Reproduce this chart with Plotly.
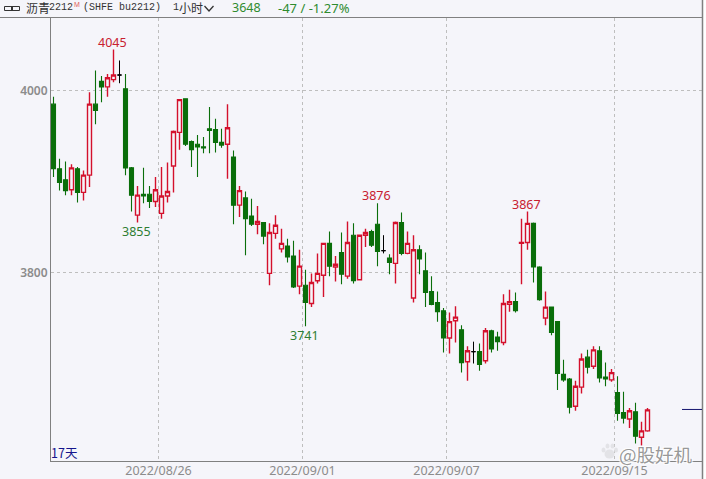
import plotly.graph_objects as go

bars = list(range(100))
opens = [3985,3914,3902,3891,3914,3888,3907,3985,4010,4004,4012,4017,4002,3915,3863,3886,3886,3878,3865,3884,
         3917,3954,3991,3944,3941,3938,3958,3957,3943,3941,3927,3874,3882,3862,3853,3855,3799,3843,3826,3829,
         3818,3785,3786,3766,3791,3797,3832,3806,3822,3796,3841,3792,3841,3845,3853,3824,3816,3810,3855,3821,
         3772,3825,3802,3779,3767,3758,3728,3747,3737,3702,3713,3713,3703,3736,3729,3723,3765,3768,3832,3833,
         3854,3806,3750,3762,3746,3688,3683,3653,3674,3707,3697,3714,3685,3682,3668,3646,3639,3647,3619,3626]
highs = [3993,3925,3922,3919,3916,3912,3998,4022,4016,4018,4045,4033,4018,3916,3895,3915,3895,3905,3916,3921,
         3956,3990,3991,3945,3951,3949,3982,3969,3958,3985,3934,3895,3889,3881,3873,3855,3854,3863,3848,3837,
         3835,3825,3803,3799,3821,3832,3845,3818,3844,3856,3854,3841,3848,3847,3876,3841,3820,3856,3866,3845,
         3841,3830,3822,3796,3779,3761,3756,3763,3742,3719,3724,3722,3739,3737,3735,3776,3781,3778,3859,3867,
         3855,3807,3779,3762,3746,3704,3684,3681,3711,3715,3719,3719,3701,3694,3686,3669,3651,3657,3636,3651]
lows = [3905,3890,3885,3885,3877,3879,3894,3963,3987,3993,4009,4008,3907,3867,3855,3876,3871,3872,3859,3877,
        3888,3935,3939,3916,3905,3931,3931,3932,3937,3903,3853,3861,3819,3851,3842,3831,3786,3837,3822,3811,
        3783,3776,3741,3762,3788,3773,3796,3790,3787,3793,3788,3792,3828,3828,3807,3821,3798,3788,3819,3820,
        3767,3798,3762,3764,3746,3712,3711,3723,3690,3681,3700,3692,3700,3712,3714,3720,3757,3756,3787,3825,
        3789,3769,3742,3731,3671,3680,3645,3648,3667,3689,3694,3679,3675,3680,3637,3634,3629,3612,3610,3625]
closes = [3914,3899,3890,3915,3888,3907,3985,3978,4004,4014,4017,4017,3915,3885,3885,3884,3878,3891,3884,3889,
          3955,3990,3941,3935,3938,3937,3956,3943,3940,3959,3874,3890,3859,3853,3856,3840,3844,3852,3832,3817,
          3784,3807,3767,3789,3799,3832,3807,3809,3798,3833,3791,3841,3844,3830,3823,3824,3811,3855,3821,3832,
          3825,3815,3778,3765,3757,3728,3746,3751,3701,3714,3713,3699,3736,3716,3724,3766,3768,3758,3833,3854,
          3806,3770,3762,3734,3689,3682,3652,3675,3705,3696,3715,3684,3683,3690,3645,3640,3648,3620,3626,3649]
flat_bars = [11, 55, 70]

peak_bars = [10, 54, 79]
peak_values = [4045, 3876, 3867]
trough_bars = [14, 42]
trough_values = [3855, 3741]

date_ticks = [17.5, 41.5, 65.5, 93.5]
date_labels = ["2022/08/26", "2022/09/01", "2022/09/07", "2022/09/15"]
price_ticks = [3800, 4000]
last_price_mark = 3649.5

RED = "#D4102C"
GREEN = "#0A6E0A"
BG = "#F5F5FA"
GREY = "#8C8C8C"
AXIS = "#808080"
GRID = "#BEBEBE"
W, H = 706, 479
L, R, T, B = 51, 702, 18, 461


def px(x):
    return (x - L) / (R - L)


def py(y):
    return (B - y) / (B - T)


plain = [b for b in bars if b not in flat_bars]
fig = go.Figure()
fig.add_trace(go.Candlestick(
    x=plain,
    open=[opens[b] for b in plain], high=[highs[b] for b in plain],
    low=[lows[b] for b in plain], close=[closes[b] for b in plain],
    increasing=dict(line=dict(color=RED, width=1.4), fillcolor=BG),
    decreasing=dict(line=dict(color=GREEN, width=1.1), fillcolor=GREEN),
    showlegend=False,
))
fig.add_trace(go.Candlestick(
    x=flat_bars,
    open=[opens[b] for b in flat_bars], high=[highs[b] for b in flat_bars],
    low=[lows[b] for b in flat_bars], close=[closes[b] for b in flat_bars],
    increasing=dict(line=dict(color="#000000", width=1), fillcolor="#000000"),
    decreasing=dict(line=dict(color="#000000", width=1), fillcolor="#000000"),
    showlegend=False,
))

for b, v in zip(peak_bars, peak_values):
    fig.add_annotation(x=b, y=v, text=str(v), showarrow=False, yanchor="bottom", yshift=-3, xshift=-1.5,
                       font=dict(color="#C8202F", size=12.5, family="Noto Sans, sans-serif"))
for b, v in zip(trough_bars, trough_values):
    fig.add_annotation(x=b, y=v, text=str(v), showarrow=False, yanchor="top", yshift=1, xshift=-1.5,
                       font=dict(color="#2E7D32", size=12.5, family="Noto Sans, sans-serif"))

shapes = [
    # frame: header rule, right rule, white strip beyond it
    dict(type="rect", xref="paper", yref="paper", x0=px(703), x1=px(706), y0=py(479), y1=py(0),
         line=dict(width=0), fillcolor="#FFFFFF", layer="above"),
    dict(type="line", xref="paper", yref="paper", x0=px(0), x1=px(702), y0=py(17.5), y1=py(17.5),
         line=dict(color=AXIS, width=1), layer="above"),
    dict(type="line", xref="paper", yref="paper", x0=px(702.5), x1=px(702.5), y0=py(0), y1=py(479),
         line=dict(color=AXIS, width=1.5), layer="above"),
    # last-price marker
    dict(type="line", xref="paper", yref="y", x0=px(682), x1=px(702), y0=last_price_mark, y1=last_price_mark,
         line=dict(color="#14146E", width=1), layer="above"),
    # link icon in the header
    dict(type="rect", xref="paper", yref="paper", x0=px(4.5), x1=px(12.5), y0=py(10.5), y1=py(6.5),
         line=dict(color="#333333", width=1), layer="above"),
    dict(type="rect", xref="paper", yref="paper", x0=px(11.5), x1=px(19.5), y0=py(10.5), y1=py(6.5),
         line=dict(color="#333333", width=1), layer="above"),
    # chevron in the header
    dict(type="path", xref="paper", yref="paper",
         path=f"M {px(204.5)} {py(6)} L {px(209)} {py(11)} L {px(213.5)} {py(6)}",
         line=dict(color="#333333", width=1.3), layer="above"),
]
# watermark paw
for cx, cy, rx, ry in [(603.5, 450, 2, 2.5), (607.5, 446, 2, 2.5), (612.5, 446, 2, 2.5),
                       (616, 450, 2, 2.5), (609.5, 454, 5, 4.5)]:
    shapes.append(dict(type="circle", xref="paper", yref="paper",
                       x0=px(cx - rx), x1=px(cx + rx), y0=py(cy + ry), y1=py(cy - ry),
                       line=dict(width=0), fillcolor="rgba(225,225,228,0.9)", layer="above"))
fig.update_layout(shapes=shapes)


def text_at(x, y, text, color="#333333", size=12, family="Noto Sans CJK SC", shadow=None):
    font = dict(color=color, size=size, family=family)
    if shadow:
        font["shadow"] = shadow
    fig.add_annotation(xref="paper", yref="paper", x=px(x), y=py(y), text=text, showarrow=False,
                       xanchor="left", yanchor="middle", font=font, borderpad=0)


text_at(24.5, 8, "沥青", size=12)
text_at(48, 8, "2212", size=10, family="Liberation Mono")
text_at(73, 5, "M", color="#E06060", size=6.5, family="Noto Sans")
text_at(82, 8, "(SHFE bu2212)", size=10, family="Liberation Mono")
text_at(172, 8, "1", size=10, family="Liberation Mono")
text_at(178, 8, "小时", size=12)
text_at(231, 8, "3648", color="#2E8B2E", size=12.5, family="Noto Sans")
text_at(277, 8, "-47 / -1.27%", color="#2E8B2E", size=13, family="Noto Sans")
text_at(49.5, 452, "17天", color="#14148C", size=12.5)
text_at(618, 454, "@股好机", color="rgba(125,125,125,0.8)", size=18.5,
        shadow="1px 1px 1px #FFFFFF, -1px -1px 1px #FFFFFF, 1px -1px 1px #FFFFFF, -1px 1px 1px #FFFFFF")

fig.update_layout(
    width=W, height=H,
    margin=dict(l=L, r=W - R, t=T, b=H - B),
    paper_bgcolor=BG, plot_bgcolor=BG,
    boxmode="overlay", boxgap=1 / 3, boxgroupgap=0,
    dragmode=False,
    xaxis=dict(range=[-2.5 / 6, 108 + 1 / 12], rangeslider=dict(visible=False), automargin=False,
               tickmode="array", tickvals=date_ticks, ticktext=date_labels,
               showgrid=True, gridcolor=GRID, griddash="3px,3px", gridwidth=1,
               showline=True, linecolor=AXIS, linewidth=1, ticks="", ticklabelstandoff=-2,
               tickfont=dict(color=GREY, size=12.5, family="Noto Sans"), zeroline=False),
    yaxis=dict(range=[3592.86, 4079.67], automargin=False, tickmode="array", tickvals=price_ticks,
               ticktext=[str(p) for p in price_ticks],
               showgrid=True, gridcolor=GRID, griddash="3px,3px", gridwidth=1,
               showline=True, linecolor=AXIS, linewidth=1, ticks="",
               tickfont=dict(color=GREY, size=12, family="Noto Sans", weight=600), zeroline=False),
)
fig.write_html("out.html", config=dict(displayModeBar=False),
               post_script="document.body.style.margin='0';document.body.style.overflow='hidden';")
